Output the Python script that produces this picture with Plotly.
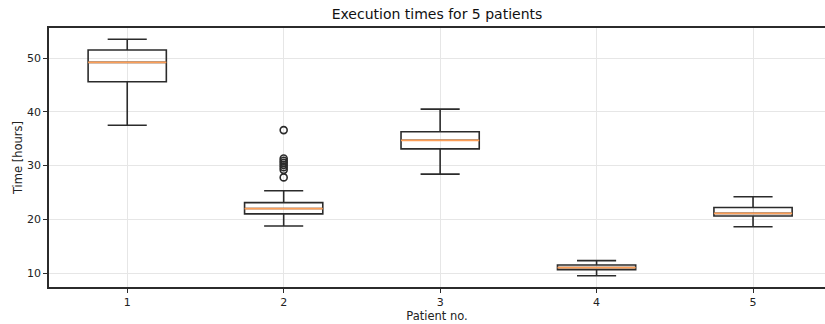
import plotly.graph_objects as go

patients = [1, 2, 3, 4, 5]
lower_whisker = [37.5, 18.75, 28.4, 9.5, 18.6]
q1 = [45.6, 21.0, 33.1, 10.6, 20.6]
median = [49.2, 22.0, 34.7, 11.0, 21.1]
q3 = [51.5, 23.1, 36.3, 11.5, 22.2]
upper_whisker = [53.5, 25.3, 40.5, 12.3, 24.2]
outlier_patient = [2, 2, 2, 2, 2, 2, 2, 2]
outlier_values = [27.8, 29.2, 29.7, 30.1, 30.5, 30.9, 31.3, 36.6]

LINE = "#2b2b2b"
FONT = "DejaVu Sans"

fig = go.Figure()
fig.add_trace(go.Box(
    x=patients, q1=q1, median=median, q3=q3,
    lowerfence=lower_whisker, upperfence=upper_whisker,
    width=0.5, whiskerwidth=0.5,
    line=dict(color=LINE, width=1.6),
    fillcolor="rgba(255,255,255,0)",
    boxpoints=False, showlegend=False, hoverinfo="skip",
))
# orange median lines
for p, m in zip(patients, median):
    fig.add_trace(go.Scatter(
        x=[p - 0.25, p + 0.25], y=[m, m], mode="lines",
        line=dict(color="#fd9f58", width=1.8),
        showlegend=False, hoverinfo="skip",
    ))
fig.add_trace(go.Scatter(
    x=outlier_patient, y=outlier_values, mode="markers",
    marker=dict(symbol="circle-open", size=7, color=LINE, line=dict(width=1.6, color=LINE)),
    showlegend=False, hoverinfo="skip",
))

fig.update_layout(
    width=825, height=324,
    margin=dict(l=49, r=0, t=28, b=37, autoexpand=False),
    paper_bgcolor="white", plot_bgcolor="white",
    font=dict(family=FONT, size=11, color="#222222"),
    title=dict(text="Execution times for 5 patients", x=0.5, xref="paper",
               xanchor="center", y=0.955, yanchor="middle",
               font=dict(family=FONT, size=14, color="#111111")),
)
fig.update_xaxes(
    range=[0.5, 5.46], tickmode="array", tickvals=patients,
    ticktext=[str(p) for p in patients],
    showgrid=True, gridcolor="#e6e6e6", gridwidth=1,
    showline=True, linecolor=LINE, linewidth=1.6, mirror=True,
    ticks="outside", ticklen=4, tickcolor=LINE, tickwidth=1.2,
    zeroline=False, automargin=False,
    title=dict(text="Patient no.", font=dict(family=FONT, size=11.5, color="#222222"), standoff=2),
)
fig.update_yaxes(
    range=[7.4, 55.6], tickmode="array", tickvals=[10, 20, 30, 40, 50],
    showgrid=True, gridcolor="#e6e6e6", gridwidth=1,
    showline=True, linecolor=LINE, linewidth=1.6, mirror=False,
    ticks="outside", ticklen=4, tickcolor=LINE, tickwidth=1.2,
    zeroline=False, automargin=False,
    title=dict(text="Time [hours]", font=dict(family=FONT, size=11.5, color="#222222"), standoff=2),
)

fig.write_html("out.html", config={"displayModeBar": False},
               post_script="document.body.style.margin='0';document.body.style.overflow='hidden';")
